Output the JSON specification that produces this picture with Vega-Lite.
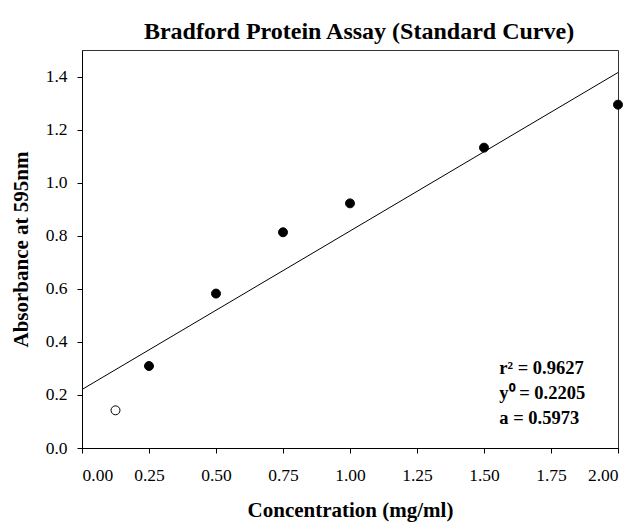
{
  "$schema": "https://vega.github.io/schema/vega-lite/v6.json",
  "autosize": {"type": "none"},
  "padding": {"left": 82, "top": 50, "right": 16, "bottom": 75},
  "width": 536,
  "height": 398,
  "background": "white",
  "title": {
    "text": "Bradford Protein Assay (Standard Curve)",
    "font": "Liberation Serif",
    "fontSize": 24,
    "fontWeight": "bold",
    "color": "black",
    "offset": 6,
    "dx": 9
  },
  "config": {
    "view": {"stroke": "#333333", "strokeWidth": 1},
    "axis": {
      "grid": false,
      "domainColor": "black",
      "tickColor": "black",
      "tickSize": 5,
      "labelFont": "Liberation Serif",
      "labelFontSize": 17.5,
      "labelColor": "black",
      "titleFont": "Liberation Serif",
      "titleFontSize": 21,
      "titleFontWeight": "bold",
      "titleColor": "black"
    }
  },
  "datasets": {
    "points": [
      {"conc": 0.125, "abs": 0.142, "used": "no"},
      {"conc": 0.25, "abs": 0.309, "used": "yes"},
      {"conc": 0.5, "abs": 0.582, "used": "yes"},
      {"conc": 0.75, "abs": 0.813, "used": "yes"},
      {"conc": 1.0, "abs": 0.922, "used": "yes"},
      {"conc": 1.5, "abs": 1.132, "used": "yes"},
      {"conc": 2.0, "abs": 1.294, "used": "yes"}
    ],
    "fit": [
      {"conc": 0, "abs": 0.2205},
      {"conc": 2, "abs": 1.4151}
    ],
    "notes": [
      {"conc": 1.557, "abs": 0.301, "label": "r² = 0.9627"},
      {"conc": 1.557, "abs": 0.207, "label": "y⁰ = 0.2205"},
      {"conc": 1.557, "abs": 0.113, "label": "a = 0.5973"}
    ]
  },
  "layer": [
    {
      "data": {"name": "fit"},
      "mark": {"type": "line", "color": "black", "strokeWidth": 1, "clip": true},
      "encoding": {
        "x": {
          "field": "conc", "type": "quantitative",
          "scale": {"domain": [0, 2], "nice": false},
          "axis": {"values": [0, 0.25, 0.5, 0.75, 1, 1.25, 1.5, 1.75, 2], "format": ".2f", "title": "Concentration (mg/ml)", "labelPadding": 13, "titlePadding": 16}
        },
        "y": {
          "field": "abs", "type": "quantitative",
          "scale": {"domain": [0, 1.5], "nice": false},
          "axis": {"values": [0, 0.2, 0.4, 0.6, 0.8, 1.0, 1.2, 1.4], "format": ".1f", "title": "Absorbance at 595nm", "labelPadding": 10, "titlePadding": 14}
        }
      }
    },
    {
      "data": {"name": "points"},
      "mark": {"type": "point", "shape": "circle", "size": 80, "stroke": "black", "strokeWidth": 1, "opacity": 1},
      "encoding": {
        "x": {"field": "conc", "type": "quantitative"},
        "y": {"field": "abs", "type": "quantitative"},
        "fill": {
          "field": "used", "type": "nominal",
          "scale": {"domain": ["yes", "no"], "range": ["black", "white"]},
          "legend": null
        },
        "fillOpacity": {"value": 1}
      }
    },
    {
      "data": {"name": "notes"},
      "mark": {"type": "text", "align": "left", "baseline": "middle", "font": "Liberation Serif", "fontSize": 18.5, "fontWeight": "bold", "color": "black"},
      "encoding": {
        "x": {"field": "conc", "type": "quantitative"},
        "y": {"field": "abs", "type": "quantitative"},
        "text": {"field": "label"}
      }
    }
  ]
}
